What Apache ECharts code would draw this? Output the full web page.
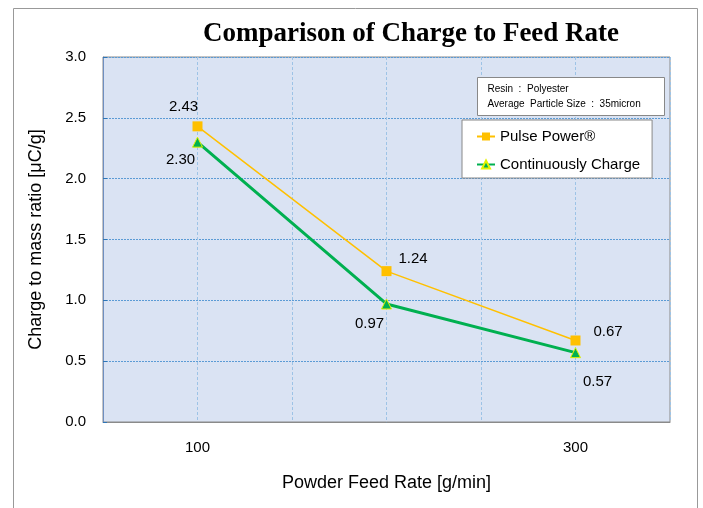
<!DOCTYPE html>
<html>
<head>
<meta charset="utf-8">
<style>
  html, body { margin: 0; padding: 0; background: #fff; }
  #main { width: 703px; height: 508px; }
</style>
<script src="https://cdn.jsdelivr.net/npm/echarts@6/dist/echarts.min.js"></script>
</head>
<body>
<div id="main"></div>
<script>
// feed rate [g/min]
var feedRates = [100, 200, 300];
var pulsePower = [2.43, 1.24, 0.67];
var continuous = [2.30, 0.97, 0.57];
var xTickLabels = ['100', '300'];

// label placement per point
var pulseLabelPos = [
  { position: 'top', offset: [-14, -2] },
  { position: 'right', offset: [2, -12] },
  { position: 'right', offset: [8, -9] }
];
var contLabelPos = [
  { position: 'bottom', offset: [-17, 0] },
  { position: 'bottom', offset: [-17, 2] },
  { position: 'bottom', offset: [22, 11] }
];

function build(values, pos) {
  return values.map(function (v, i) {
    return {
      value: [feedRates[i], v],
      label: { show: true, position: pos[i].position, offset: pos[i].offset,
        formatter: v.toFixed(2), color: '#000', fontSize: 15, fontFamily: 'Liberation Sans' }
    };
  });
}

var chart = echarts.init(document.getElementById('main'));
chart.setOption({
  animation: false,
  title: {
    text: 'Comparison of Charge to Feed Rate',
    left: 406, top: 16, textAlign: 'center',
    textStyle: { fontFamily: 'Liberation Serif', fontWeight: 'bold', fontSize: 27, color: '#000' }
  },
  graphic: [
    {
      type: 'rect', shape: { x: 13.5, y: 8.5, width: 684, height: 540 },
      style: { fill: 'none', stroke: '#999', lineWidth: 1 }, z: -10
    },
    {
      type: 'group', left: 477, top: 77, z: 100,
      children: [
        { type: 'rect', z: 100, shape: { x: 0, y: 0, width: 187, height: 38 },
          style: { fill: '#fff', stroke: '#888', lineWidth: 1 } },
        { type: 'text', z: 101, x: 10, y: 7,
          style: { text: 'Resin  :  Polyester', fontSize: 10, fontFamily: 'Liberation Sans', fill: '#000' } },
        { type: 'text', z: 101, x: 10, y: 22,
          style: { text: 'Average  Particle Size  :  35micron', fontSize: 10, fontFamily: 'Liberation Sans', fill: '#000' } }
      ]
    }
  ],
  legend: {
    orient: 'vertical', left: 462, top: 120,
    padding: [9, 12, 6, 14], itemGap: 13, itemWidth: 18, itemHeight: 10,
    backgroundColor: '#fff', borderColor: '#888', borderWidth: 1,
    textStyle: { fontSize: 15, fontFamily: 'Liberation Sans', color: '#000' },
    data: ['Pulse Power®', 'Continuously Charge']
  },
  grid: { left: 103, right: 33, top: 57, bottom: 86, show: true, backgroundColor: '#DAE3F3', borderColor: '#8a8a8a', borderWidth: 1 },
  xAxis: {
    type: 'value', min: 50, max: 350, interval: 50,
    name: 'Powder Feed Rate [g/min]', nameLocation: 'middle', nameGap: 52,
    nameTextStyle: { fontSize: 18, fontFamily: 'Liberation Sans', color: '#000' },
    axisLine: { show: true, lineStyle: { color: '#8a8a8a' } },
    axisTick: { show: false },
    axisLabel: {
      margin: 18, fontSize: 15, fontFamily: 'Liberation Sans', color: '#000',
      formatter: function (v) { return xTickLabels.indexOf(String(v)) >= 0 ? String(v) : ''; }
    },
    splitLine: { show: true, lineStyle: { color: '#9DC3E6', type: [3, 2], width: 1 } }
  },
  yAxis: {
    type: 'value', min: 0, max: 3, interval: 0.5,
    name: 'Charge to mass ratio [μC/g]', nameLocation: 'middle', nameGap: 58,
    nameTextStyle: { fontSize: 18, fontFamily: 'Liberation Sans', color: '#000' },
    axisLine: { show: true, lineStyle: { color: '#6f8fc0' } },
    axisTick: { show: true, inside: true, length: 4, lineStyle: { color: '#2e75b6' } },
    axisLabel: {
      margin: 17, fontSize: 15, fontFamily: 'Liberation Sans', color: '#000',
      formatter: function (v) { return v.toFixed(1); }
    },
    splitLine: { show: true, lineStyle: { color: '#5B9BD5', type: [2, 1], width: 1 } }
  },
  series: [
    {
      name: 'Pulse Power®', type: 'line', data: build(pulsePower, pulseLabelPos),
      symbol: 'rect', symbolSize: 10,
      lineStyle: { color: '#FFC000', width: 1.5 },
      itemStyle: { color: '#FFC000' }, z: 3
    },
    {
      name: 'Continuously Charge', type: 'line', data: build(continuous, contLabelPos),
      symbol: 'triangle', symbolSize: 10,
      lineStyle: { color: '#00B050', width: 3 },
      itemStyle: { color: '#00B050', borderColor: '#E5F200', borderWidth: 1 }, z: 4
    }
  ]
});
</script>
</body>
</html>
